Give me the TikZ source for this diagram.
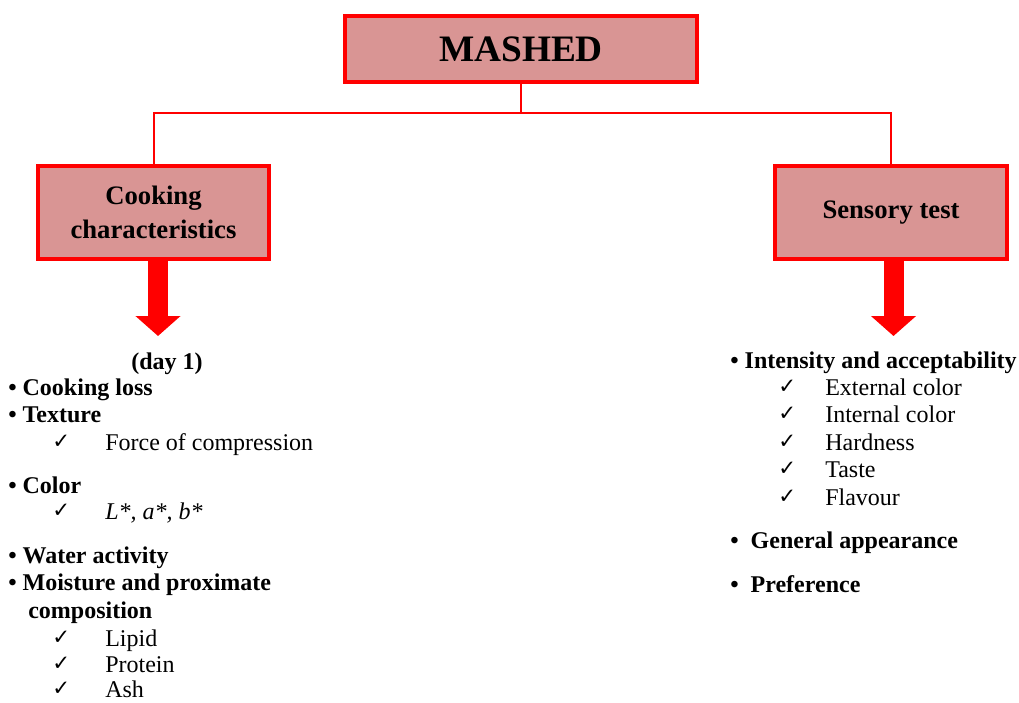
\documentclass[tikz,border=0pt]{standalone}
\usepackage{fontspec}
\setmainfont{Liberation Serif}
\newfontfamily\chkfont{DejaVu Sans}
\usetikzlibrary{arrows.meta}

\definecolor{boxfill}{RGB}{217,149,148}
\definecolor{boxred}{RGB}{255,0,0}

\tikzset{
  box/.style={draw=boxred, line width=3pt, fill=boxfill, align=center, inner sep=0pt,
    font=\fontsize{20}{26}\selectfont\bfseries},
  link/.style={draw=boxred, line width=1.5pt},
  bigarrow/.style={draw=boxred, line width=15pt, -{Triangle[length=15pt,width=33pt]}},
  head/.style={anchor=base west, inner sep=0pt, font=\fontsize{18}{21}\selectfont\bfseries},
  leaf/.style={anchor=base west, inner sep=0pt, font=\fontsize{18}{21}\selectfont},
  tick/.style={anchor=base west, inner sep=0pt, font=\chkfont\fontsize{16}{18}\selectfont}
}

\begin{document}
\begin{tikzpicture}[x=0.75pt,y=0.75pt,yscale=-1,xscale=1]
\path[use as bounding box] (0,0) rectangle (1019,702);

% Boxes
\node [box, minimum width=264pt, minimum height=49.5pt, font=\fontsize{28}{32}\selectfont\bfseries] (mashed) at (521,49) {MASHED};
\node [box, minimum width=173.25pt, minimum height=69.75pt] (cook) at (153.5,212.5) {Cooking\\characteristics};
\node [box, minimum width=174pt, minimum height=69.75pt] (sens) at (891,212.5) {Sensory test};

% Connection
\coordinate (split) at (521,113);
\draw [link] (mashed) -- (split);
\draw [link] (split) -| (cook);
\draw [link] (split) -| (sens);

% Block arrows
\coordinate (cooktip) at (158,336);
\coordinate (senstip) at (893.5,336);
\draw [bigarrow] (cook.south -| cooktip) -- (cooktip);
\draw [bigarrow] (sens.south -| senstip) -- (senstip);

% Left list
\node [head, anchor=base] (day) at (167,369) {(day 1)};
\node [head] (loss) at (8,395) {• Cooking loss};
\node [head] (texture) at (8,422) {• Texture};
\node [tick] (t1) at (52,448) {✓};
\node [leaf] (force) at (105,450) {Force of compression};
\node [head] (color) at (8,493) {• Color};
\node [tick] (t2) at (52,517) {✓};
\node [leaf] (lab) at (105,519) {\itshape L*, a*, b*};
\node [head] (water) at (8,563) {• Water activity};
\node [head] (moist) at (8,590) {• Moisture and proximate};
\node [head] (compo) at (28,618) {composition};
\node [tick] (t3) at (52,644) {✓};
\node [leaf] (lipid) at (105,646) {Lipid};
\node [tick] (t4) at (52,670) {✓};
\node [leaf] (protein) at (105,672) {Protein};
\node [tick] (t5) at (52,695) {✓};
\node [leaf] (ash) at (105,697) {Ash};

% Right list
\node [head] (intens) at (730,368) {• Intensity and acceptability};
\node [tick] (r1) at (778,393) {✓};
\node [leaf] (extc) at (825,395) {External color};
\node [tick] (r2) at (778,420) {✓};
\node [leaf] (intc) at (825,422) {Internal color};
\node [tick] (r3) at (778,448) {✓};
\node [leaf] (hard) at (825,450) {Hardness};
\node [tick] (r4) at (778,475) {✓};
\node [leaf] (taste) at (825,477) {Taste};
\node [tick] (r5) at (778,503) {✓};
\node [leaf] (flav) at (825,505) {Flavour};
\node [head] (general) at (730,548) {•~ General appearance};
\node [head] (pref) at (730,592) {•~ Preference};

\end{tikzpicture}
\end{document}
